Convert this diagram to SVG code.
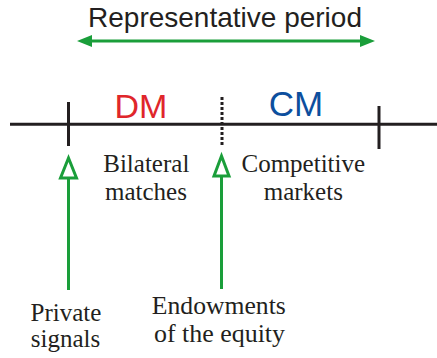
<svg xmlns="http://www.w3.org/2000/svg" width="437" height="358" viewBox="0 0 437 358">
  <style>
    .axis { stroke: #231f20; stroke-width: 3; fill: none; }
    .green { stroke: #1a9e3a; stroke-width: 3; fill: none; }
    .head { fill: #1a9e3a; }
    .hollow { fill: #ffffff; stroke: #1a9e3a; stroke-width: 3; stroke-linejoin: miter; }
    .sans { font-family: 'Liberation Sans', Arial, sans-serif; text-anchor: middle; }
    .serif { font-family: 'Liberation Serif', 'Times New Roman', serif; font-size: 25px; fill: #231f20; text-anchor: middle; }
  </style>

  <rect width="437" height="358" fill="#ffffff"/>

  <!-- period span -->
  <g id="period">
    <text class="sans" x="225" y="27" font-size="28" fill="#231f20">Representative period</text>
    <line class="green" x1="88" y1="41" x2="364" y2="41"/>
    <polygon class="head" points="77,41 92,35 92,47"/>
    <polygon class="head" points="375,41 360,35 360,47"/>
  </g>

  <!-- time axis with ticks -->
  <g id="timeline">
    <line class="axis" x1="10" y1="124.3" x2="437" y2="124.3"/>
    <line class="axis" x1="68.5" y1="102" x2="68.5" y2="146"/>
    <line class="axis" x1="379" y1="106" x2="379" y2="149"/>
    <line class="axis" x1="222" y1="97" x2="222" y2="145" stroke-width="4" stroke-dasharray="3,2"/>
  </g>

  <g id="dm">
    <text class="sans" x="141" y="118" font-size="34" fill="#e0262b">DM</text>
    <text class="serif" x="146.3" y="171.5">Bilateral</text>
    <text class="serif" x="146" y="200">matches</text>
  </g>

  <g id="cm">
    <text class="sans" x="296" y="116" font-size="35" fill="#0d4f9e">CM</text>
    <text class="serif" x="303.3" y="171.5">Competitive</text>
    <text class="serif" x="303.3" y="200">markets</text>
  </g>

  <g id="signals">
    <text class="serif" x="66" y="320.5">Private</text>
    <text class="serif" x="65.5" y="346.5">signals</text>
  </g>

  <g id="endowments">
    <text class="serif" x="218.8" y="314" textLength="134" lengthAdjust="spacingAndGlyphs">Endowments</text>
    <text class="serif" x="219.5" y="341.5" textLength="131" lengthAdjust="spacingAndGlyphs">of the equity</text>
  </g>

  <!-- upward event arrows -->
  <g id="connectors">
    <line class="green" x1="68.5" y1="290" x2="68.5" y2="178"/>
    <polygon class="hollow" points="68.5,158 60.5,178 76.5,178"/>
    <line class="green" x1="221.5" y1="289" x2="221.5" y2="176"/>
    <polygon class="hollow" points="221.5,156 214,176 229,176"/>
  </g>
</svg>
